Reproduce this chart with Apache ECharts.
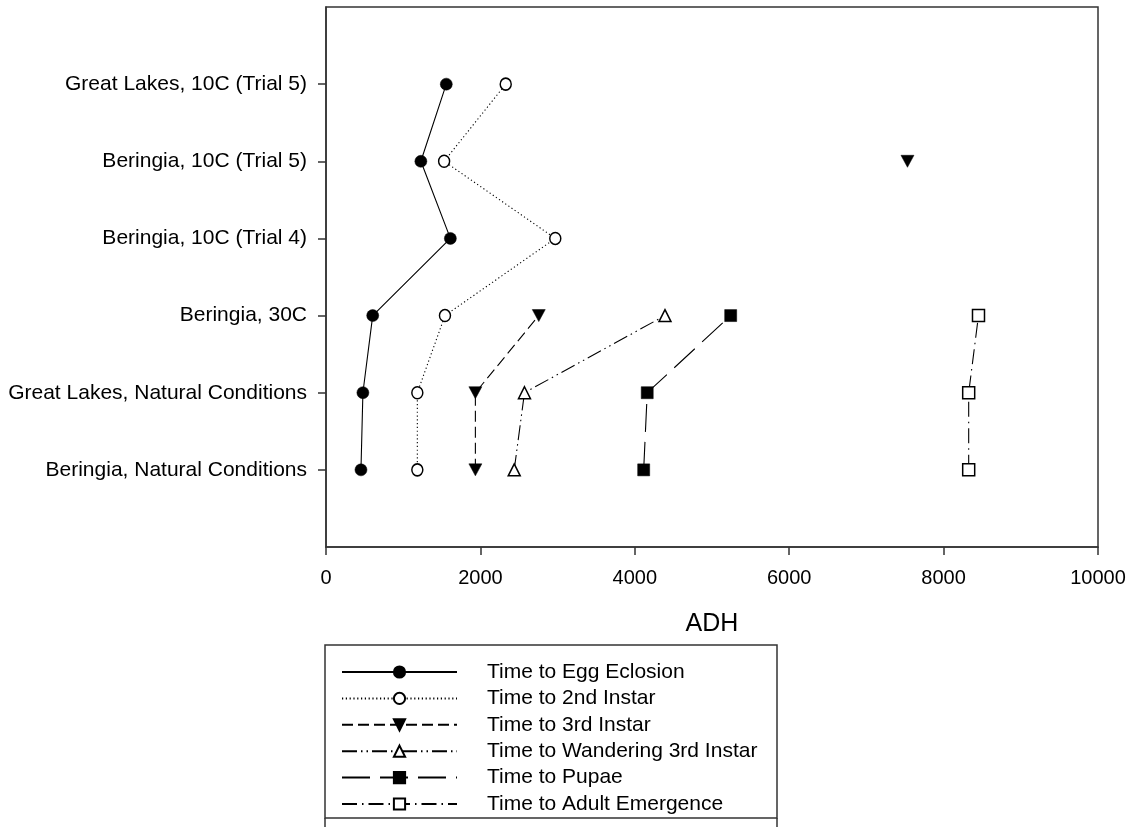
<!DOCTYPE html>
<html>
<head>
<meta charset="utf-8">
<script src="https://cdn.jsdelivr.net/npm/echarts@6/dist/echarts.min.js"></script>
<style>
html,body{margin:0;padding:0;background:#fff;}
#chart{width:1136px;height:827px;}
</style>
</head>
<body>
<div id="chart"></div>
<script>
// Categories, bottom to top
const categories = [
  'Beringia, Natural Conditions',
  'Great Lakes, Natural Conditions',
  'Beringia, 30C',
  'Beringia, 10C (Trial 4)',
  'Beringia, 10C (Trial 5)',
  'Great Lakes, 10C (Trial 5)'
];
const xTicks = [0, 2000, 4000, 6000, 8000, 10000];

const eggEclosion   = [453, 478, 605, 1611, 1229, 1558];
const secondInstar  = [1183, 1183, 1541, 2970, 1530, 2328];
const thirdInstar   = [1935, 1935, 2756, null, 7532, null];
const wandering3rd  = [2438, 2571, 4391, null, null, null];
const pupae         = [4115, 4161, 5242, null, null, null];
const adultEmerge   = [8325, 8325, 8452, null, null, null];

const seriesNames = [
  'Time to Egg Eclosion',
  'Time to 2nd Instar',
  'Time to 3rd Instar',
  'Time to Wandering 3rd Instar',
  'Time to Pupae',
  'Time to Adult Emergence'
];

const FONT = '"Liberation Sans", Arial, sans-serif';
const INK = '#000';

function toPoints(vals) {
  return vals.map((v, i) => v === null ? ['-', i + 1] : [v, i + 1]);
}

const styles = [
  { data: eggEclosion,  symbol: 'circle', size: 12, fill: INK, dash: 'solid' },
  { data: secondInstar, symbol: 'circle', size: [11, 12], fill: '#fff', dash: [1.2, 2.6] },
  { data: thirdInstar,  symbol: 'path://M0,0L10,0L5,9Z', size: [13, 12], fill: INK, dash: [11, 5] },
  { data: wandering3rd, symbol: 'triangle', size: [12, 12], fill: '#fff', dash: [15, 4, 1.5, 4, 1.5, 4] },
  { data: pupae,        symbol: 'rect', size: 12, fill: INK, dash: [28, 10] },
  { data: adultEmerge,  symbol: 'rect', size: 12, fill: '#fff', dash: [15, 5, 1.5, 5] }
];

const series = styles.map((s, k) => ({
  name: seriesNames[k],
  type: 'line',
  data: toPoints(s.data),
  symbol: s.symbol,
  symbolSize: s.size,
  showSymbol: true,
  connectNulls: false,
  lineStyle: { color: INK, width: 1.1, type: s.dash },
  itemStyle: { color: s.fill, borderColor: INK, borderWidth: s.fill === '#fff' ? 1.5 : 0.5 },
  emphasis: { disabled: true },
  z: 2
}));

const chart = echarts.init(document.getElementById('chart'), null, { renderer: 'canvas' });
chart.setOption({
  animation: false,
  backgroundColor: '#fff',
  grid: {
    left: 326, right: 38, top: 7, bottom: 280,
    show: true, borderColor: '#333', borderWidth: 1.5, backgroundColor: 'transparent'
  },
  xAxis: {
    type: 'value',
    min: xTicks[0], max: xTicks[xTicks.length - 1], interval: 2000,
    splitLine: { show: false },
    axisLine: { show: true, onZero: false, lineStyle: { color: '#333', width: 1.5 } },
    axisTick: { show: true, inside: false, length: 8, lineStyle: { color: '#333', width: 1.5 } },
    axisLabel: { margin: 21, fontSize: 20, fontFamily: FONT, color: INK,
      formatter: v => String(v) },
    name: 'ADH',
    nameLocation: 'middle',
    nameGap: 65,
    nameTextStyle: { fontSize: 25, fontFamily: FONT, color: INK }
  },
  yAxis: {
    type: 'value',
    min: 0, max: 7, interval: 1,
    splitLine: { show: false },
    axisLine: { show: true, onZero: false, lineStyle: { color: '#333', width: 1.5 } },
    axisTick: { show: true, inside: false, length: 8, customValues: [1, 2, 3, 4, 5, 6],
      lineStyle: { color: '#333', width: 1.5 } },
    axisLabel: { margin: 19, fontSize: 21, fontFamily: FONT, color: INK,
      customValues: [1, 2, 3, 4, 5, 6],
      formatter: v => categories[v - 1] || '' }
  },
  legend: {
    orient: 'vertical',
    left: 341,
    top: 661.5,
    itemWidth: 115,
    itemHeight: 14,
    itemGap: 5.4,
    padding: 0,
    selectedMode: false,
    data: seriesNames,
    textStyle: { fontSize: 21, fontFamily: FONT, color: INK, lineHeight: 21, padding: [0, 0, 0, 25] }
  },
  graphic: [
    { type: 'rect', shape: { x: 325, y: 645, width: 452, height: 173 },
      style: { fill: 'none', stroke: '#333', lineWidth: 1.5 }, silent: true },
    { type: 'line', shape: { x1: 325, y1: 818, x2: 325, y2: 827 },
      style: { stroke: '#333', lineWidth: 1.5 }, silent: true },
    { type: 'line', shape: { x1: 777, y1: 818, x2: 777, y2: 827 },
      style: { stroke: '#333', lineWidth: 1.5 }, silent: true }
  ],
  series: series
});
</script>
</body>
</html>
